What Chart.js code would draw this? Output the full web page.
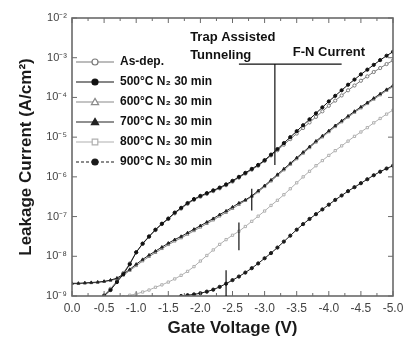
<!DOCTYPE html>
<html>
<head>
<meta charset="utf-8">
<script src="https://cdn.jsdelivr.net/npm/chart.js@4.4.1/dist/chart.umd.min.js"></script>
<style>
  html, body { margin: 0; padding: 0; background: #fff; }
  #wrap { width: 413px; height: 350px; position: relative; }
</style>
</head>
<body>
<div id="wrap"><canvas id="chart"></canvas></div>
<script>
// gate voltage (V), 0.0 to -5.0 in 0.1 V steps
const gateV = [0.0, -0.1, -0.2, -0.3, -0.4, -0.5, -0.6, -0.7, -0.8, -0.9,
  -1.0, -1.1, -1.2, -1.3, -1.4, -1.5, -1.6, -1.7, -1.8, -1.9,
  -2.0, -2.1, -2.2, -2.3, -2.4, -2.5, -2.6, -2.7, -2.8, -2.9,
  -3.0, -3.1, -3.2, -3.3, -3.4, -3.5, -3.6, -3.7, -3.8, -3.9,
  -4.0, -4.1, -4.2, -4.3, -4.4, -4.5, -4.6, -4.7, -4.8, -4.9, -5.0];

// leakage current, stored as log10(J) in A/cm^2
const logAsDep = [null, null, null, null, null, -8.98, -8.82, -8.62, -8.42, -8.18,
  -7.9, -7.69, -7.51, -7.34, -7.19, -7.06, -6.92, -6.8, -6.68, -6.58,
  -6.5, -6.43, -6.36, -6.29, -6.21, -6.12, -6.02, -5.92, -5.82, -5.72,
  -5.6, -5.46, -5.33, -5.19, -5.05, -4.91, -4.77, -4.63, -4.49, -4.35,
  -4.21, -4.08, -3.95, -3.82, -3.7, -3.58, -3.47, -3.36, -3.26, -3.16, -3.07];
const log500 = [null, null, null, null, null, -9.0, -8.85, -8.65, -8.45, -8.2,
  -7.9, -7.68, -7.5, -7.33, -7.18, -7.05, -6.9, -6.78, -6.66, -6.56,
  -6.48, -6.41, -6.34, -6.27, -6.19, -6.1, -6.0, -5.9, -5.8, -5.7,
  -5.58, -5.44, -5.3, -5.15, -5.0, -4.85, -4.7, -4.55, -4.4, -4.25,
  -4.1, -3.96, -3.82, -3.68, -3.55, -3.42, -3.3, -3.18, -3.06, -2.95, -2.85];
const log600 = [-8.69, -8.69, -8.68, -8.67, -8.66, -8.64, -8.61, -8.57, -8.48, -8.36,
  -8.24, -8.12, -8.01, -7.91, -7.81, -7.71, -7.62, -7.54, -7.45, -7.36,
  -7.27, -7.18, -7.09, -6.99, -6.9, -6.8, -6.7, -6.6, -6.5, -6.38,
  -6.25, -6.11, -5.97, -5.83, -5.69, -5.55, -5.41, -5.27, -5.13, -5.0,
  -4.87, -4.74, -4.62, -4.5, -4.38, -4.27, -4.16, -4.05, -3.94, -3.83, -3.73];
const log700 = [-8.68, -8.68, -8.67, -8.66, -8.65, -8.63, -8.6, -8.55, -8.45, -8.33,
  -8.2, -8.08, -7.97, -7.87, -7.77, -7.67, -7.58, -7.5, -7.41, -7.32,
  -7.23, -7.14, -7.05, -6.95, -6.86, -6.76, -6.66, -6.58, -6.48, -6.35,
  -6.22, -6.08, -5.94, -5.8, -5.66, -5.52, -5.38, -5.24, -5.1, -4.97,
  -4.84, -4.71, -4.59, -4.47, -4.35, -4.24, -4.13, -4.02, -3.91, -3.8, -3.7];
const log800 = [null, null, null, null, null, null, null, null, -9.02, -8.98,
  -8.95, -8.9, -8.85, -8.78, -8.72, -8.65, -8.57, -8.48, -8.38, -8.26,
  -8.12, -7.98, -7.84, -7.7, -7.58, -7.47, -7.37, -7.25, -7.12, -6.99,
  -6.86, -6.72, -6.59, -6.45, -6.3, -6.15, -6.0, -5.86, -5.72, -5.59,
  -5.46, -5.34, -5.22, -5.1, -4.98, -4.87, -4.76, -4.64, -4.53, -4.42, -4.32];
const log900 = [null, null, null, null, null, null, null, null, null, null,
  null, null, null, null, null, null, null, -9.0, -8.98, -8.96,
  -8.93, -8.89, -8.84, -8.77, -8.69, -8.6, -8.51, -8.41, -8.3, -8.18,
  -8.05, -7.92, -7.78, -7.63, -7.48, -7.33, -7.19, -7.06, -6.94, -6.82,
  -6.7, -6.58, -6.47, -6.36, -6.26, -6.16, -6.06, -5.96, -5.87, -5.79, -5.72];

const seriesLabels = ['As-dep.', '500°C N₂ 30 min', '600°C N₂ 30 min',
  '700°C N₂ 30 min', '800°C N₂ 30 min', '900°C N₂ 30 min'];
const xTicks = [0, -0.5, -1.0, -1.5, -2.0, -2.5, -3.0, -3.5, -4.0, -4.5, -5.0];
const yDecades = [-9, -8, -7, -6, -5, -4, -3, -2];

const SUP = { '-': '⁻', '0': '⁰', '1': '¹', '2': '²', '3': '³', '4': '⁴',
  '5': '⁵', '6': '⁶', '7': '⁷', '8': '⁸', '9': '⁹' };
const supText = s => String(s).split('').map(c => SUP[c] || c).join('');

function toPoints(logs) {
  const pts = [];
  logs.forEach((e, i) => {
    if (e !== null) pts.push({ x: gateV[i], y: Math.pow(10, e) });
  });
  return pts;
}

const styles = [
  { data: logAsDep, color: '#7a7a7a', fill: '#ffffff', shape: 'circle', order: 3, dash: [] },
  { data: log500, color: '#111111', fill: '#111111', shape: 'circle', order: 0, dash: [] },
  { data: log600, color: '#8a8a8a', fill: '#ffffff', shape: 'triangle', order: 4, dash: [] },
  { data: log700, color: '#222222', fill: '#222222', shape: 'triangle', order: 1, dash: [] },
  { data: log800, color: '#b0b0b0', fill: '#ffffff', shape: 'rect', order: 5, dash: [] },
  { data: log900, color: '#1a1a1a', fill: '#1a1a1a', shape: 'circle', order: 2, dash: [3, 2] }
];

const datasets = styles.map((s, i) => ({
  label: seriesLabels[i],
  data: toPoints(s.data),
  borderColor: s.color,
  backgroundColor: s.fill,
  pointBorderColor: s.color,
  pointBackgroundColor: s.fill,
  pointStyle: s.shape,
  pointRadius: 1.6,
  pointBorderWidth: 1,
  borderWidth: 1,
  tension: 0,
  order: s.order
}));

const FONT = '"Liberation Sans", Arial, sans-serif';

// frame with inward ticks on all four sides
const frameTicks = {
  id: 'frameTicks',
  afterDraw(chart) {
    const { ctx, chartArea: a, scales: { x, y } } = chart;
    ctx.save();
    ctx.strokeStyle = '#6a6a6a';
    ctx.lineWidth = 1;
    for (let k = 0; k <= 20; k++) {
      const px = x.getPixelForValue(-k * 0.25);
      const len = k % 2 === 0 ? 5 : 3;
      ctx.beginPath();
      ctx.moveTo(px, a.bottom); ctx.lineTo(px, a.bottom - len);
      ctx.moveTo(px, a.top); ctx.lineTo(px, a.top + len);
      ctx.stroke();
    }
    yDecades.forEach(d => {
      const py = y.getPixelForValue(Math.pow(10, d));
      ctx.beginPath();
      ctx.moveTo(a.left, py); ctx.lineTo(a.left + 5, py);
      ctx.moveTo(a.right, py); ctx.lineTo(a.right - 5, py);
      ctx.stroke();
    });
    ctx.lineWidth = 1.6;
    ctx.strokeRect(a.left, a.top, a.right - a.left, a.bottom - a.top);
    ctx.restore();
  }
};

// region labels, transition marks and legend
const notes = {
  id: 'notes',
  afterDraw(chart) {
    const { ctx, chartArea: a, scales: { x, y } } = chart;
    const X = v => x.getPixelForValue(v);
    const Y = e => y.getPixelForValue(Math.pow(10, e));
    ctx.save();
    ctx.strokeStyle = '#111';
    ctx.fillStyle = '#111';
    ctx.lineWidth = 1.2;

    // short transition marks on curves
    [[-2.8, -6.3, -6.85], [-2.6, -7.15, -7.85], [-2.4, -8.35, -9.0]].forEach(m => {
      ctx.beginPath();
      ctx.moveTo(X(m[0]), Y(m[1])); ctx.lineTo(X(m[0]), Y(m[2]));
      ctx.stroke();
    });

    // trap assisted / F-N separator
    ctx.beginPath();
    ctx.moveTo(X(-2.6), Y(-3.16)); ctx.lineTo(X(-4.2), Y(-3.16));
    ctx.moveTo(X(-3.16), Y(-3.16)); ctx.lineTo(X(-3.16), Y(-5.7));
    ctx.stroke();

    ctx.font = 'bold 13px ' + FONT;
    ctx.textBaseline = 'middle';
    ctx.textAlign = 'left';
    ctx.fillText('Trap Assisted', X(-1.84), Y(-2.5));
    ctx.fillText('Tunneling', X(-1.84), Y(-2.93));
    ctx.fillText('F-N Current', X(-3.44), Y(-2.86));

    // legend
    ctx.font = 'bold 12px ' + FONT;
    styles.forEach((s, i) => {
      const ly = a.top + 44 + i * 20;
      const lx = a.left + 4;
      ctx.strokeStyle = s.color;
      ctx.lineWidth = 1.2;
      ctx.setLineDash(s.dash);
      ctx.beginPath();
      ctx.moveTo(lx, ly); ctx.lineTo(lx + 38, ly);
      ctx.stroke();
      ctx.setLineDash([]);
      const cx = lx + 19;
      ctx.fillStyle = s.fill;
      ctx.beginPath();
      if (s.shape === 'circle') {
        ctx.arc(cx, ly, 3, 0, Math.PI * 2);
      } else if (s.shape === 'triangle') {
        ctx.moveTo(cx, ly - 3.6); ctx.lineTo(cx + 3.6, ly + 2.6); ctx.lineTo(cx - 3.6, ly + 2.6);
        ctx.closePath();
      } else {
        ctx.rect(cx - 2.8, ly - 2.8, 5.6, 5.6);
      }
      ctx.fill();
      ctx.stroke();
      ctx.fillStyle = '#111';
      ctx.fillText(seriesLabels[i], lx + 44, ly);
    });
    ctx.restore();
  }
};

new Chart(document.getElementById('chart'), {
  type: 'line',
  data: { datasets },
  plugins: [frameTicks, notes],
  options: {
    responsive: true,
    maintainAspectRatio: false,
    animation: false,
    layout: { padding: { top: 18, right: 20, left: 0, bottom: 0 } },
    plugins: { legend: { display: false }, tooltip: { enabled: false } },
    scales: {
      x: {
        type: 'linear',
        min: -5,
        max: 0,
        reverse: true,
        afterFit: s => { s.height = 54; },
        afterBuildTicks: s => { s.ticks = xTicks.map(v => ({ value: v })); },
        grid: { display: false, drawTicks: false },
        border: { display: false },
        ticks: {
          padding: 5,
          color: '#444',
          font: { family: FONT, size: 12 },
          maxRotation: 0,
          autoSkip: false,
          callback: v => Number(v).toFixed(1)
        },
        title: {
          display: true,
          text: 'Gate Voltage (V)',
          color: '#1a1a1a',
          font: { family: FONT, size: 17, weight: 'bold' },
          padding: { top: 0, bottom: 11 }
        }
      },
      y: {
        type: 'logarithmic',
        min: 1e-9,
        max: 1e-2,
        afterFit: s => { s.width = 72; },
        afterBuildTicks: s => { s.ticks = yDecades.map(d => ({ value: Math.pow(10, d) })); },
        grid: { display: false, drawTicks: false },
        border: { display: false },
        ticks: {
          padding: 5,
          color: '#444',
          font: { family: FONT, size: 11 },
          autoSkip: false,
          callback: v => '10' + supText(Math.round(Math.log10(v)))
        },
        title: {
          display: true,
          text: 'Leakage Current (A/cm²)',
          color: '#1a1a1a',
          font: { family: FONT, size: 17, weight: 'bold' },
          padding: { top: 16, bottom: 0 }
        }
      }
    }
  }
});
</script>
</body>
</html>
